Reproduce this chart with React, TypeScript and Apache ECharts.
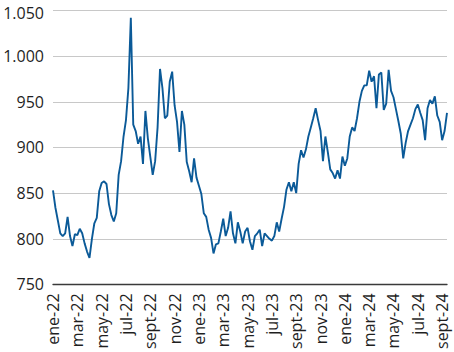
import React, { useEffect, useRef } from "react";
import * as echarts from "echarts";

// Tick labels of the x axis (every two months, starting January 2022)
const xLabels = [
  "ene-22", "mar-22", "may-22", "jul-22", "sept-22", "nov-22",
  "ene-23", "mar-23", "may-23", "jul-23", "sept-23", "nov-23",
  "ene-24", "mar-24", "may-24", "jul-24", "sept-24",
];

// Observations sampled every 0.2 month (~6 days) from January 2022
const sampleStepMonths = 0.2;
const values = [
  853, 834, 820, 806, 803, 806, 824, 803, 792, 805,
  804, 811, 806, 795, 786, 779, 800, 817, 823, 852,
  861, 863, 860, 838, 826, 819, 828, 870, 885, 912,
  930, 965, 1042, 925, 918, 904, 912, 882, 940, 910,
  890, 870, 885, 922, 986, 965, 932, 935, 972, 983,
  946, 928, 895, 940, 925, 884, 874, 862, 888, 867,
  858, 849, 828, 824, 810, 801, 784, 794, 795, 808,
  822, 803, 812, 830, 806, 795, 818, 808, 795, 808,
  812, 797, 788, 803, 806, 810, 792, 806, 803, 800,
  798, 803, 818, 808, 822, 835, 854, 862, 852, 862,
  850, 882, 897, 889, 898, 912, 922, 932, 943, 930,
  918, 885, 912, 895, 876, 872, 866, 875, 866, 890,
  880, 888, 912, 922, 918, 932, 950, 962, 968, 968,
  984, 972, 978, 943, 980, 982, 941, 948, 985, 962,
  955, 942, 929, 915, 888, 905, 918, 925, 932, 942,
  947, 938, 930, 908, 943, 952, 948, 956, 935, 928,
  908, 918, 938,
];

const yMin = 750;
const yMax = 1050;
const yStep = 50;

const FONT = "'Open Sans', 'Noto Sans', sans-serif";

const fmtY = (v: number) =>
  v >= 1000 ? `${Math.floor(v / 1000)}.${String(v % 1000).padStart(3, "0")}` : String(v);

export default function App() {
  const ref = useRef<HTMLDivElement>(null);

  useEffect(() => {
    if (!ref.current) return;
    const chart = echarts.init(ref.current, undefined, { renderer: "svg" });
    const seriesData = values.map((v, i) => [+(i * sampleStepMonths).toFixed(2), v]);
    const xMax = +((values.length - 1) * sampleStepMonths).toFixed(2);
    chart.setOption({
      animation: false,
      grid: { left: 53, right: 7, top: 9, bottom: 67, containLabel: false },
      xAxis: {
        type: "value",
        min: 0,
        max: xMax,
        interval: 2,
        axisLine: { show: true, lineStyle: { color: "#3a3a3a", width: 1.3 } },
        axisTick: { show: false },
        splitLine: { show: false },
        axisLabel: {
          rotate: 90,
          margin: 9,
          fontSize: 16,
          fontFamily: FONT,
          color: "#1f1f1f",
          showMaxLabel: false,
          formatter: (v: number) => {
            const k = Math.round(v);
            if (Math.abs(v - k) > 1e-6 || k % 2 !== 0) return "";
            return xLabels[k / 2] ?? "";
          },
        },
      },
      yAxis: {
        type: "value",
        min: yMin,
        max: yMax,
        interval: yStep,
        axisLine: { show: false },
        axisTick: { show: false },
        splitLine: { show: true, lineStyle: { color: "#c8c8c8", width: 1.2 } },
        axisLabel: {
          margin: 9,
          fontSize: 16,
          fontFamily: FONT,
          color: "#1f1f1f",
          formatter: (v: number) => (v === yMax ? `{top|${fmtY(v)}}` : fmtY(v)),
          rich: {
            top: {
              fontSize: 16,
              fontFamily: FONT,
              color: "#1f1f1f",
              lineHeight: 16,
              padding: [5, 0, 0, 0],
            },
          },
        },
      },
      series: [
        {
          type: "line",
          data: seriesData,
          showSymbol: false,
          symbol: "none",
          lineStyle: { color: "#0b5a98", width: 1.9 },
        },
      ],
    });
    return () => chart.dispose();
  }, []);

  return (
    <div
      ref={ref}
      style={{ position: "fixed", left: 0, top: 0, width: 454, height: 352, background: "#fff" }}
    />
  );
}
